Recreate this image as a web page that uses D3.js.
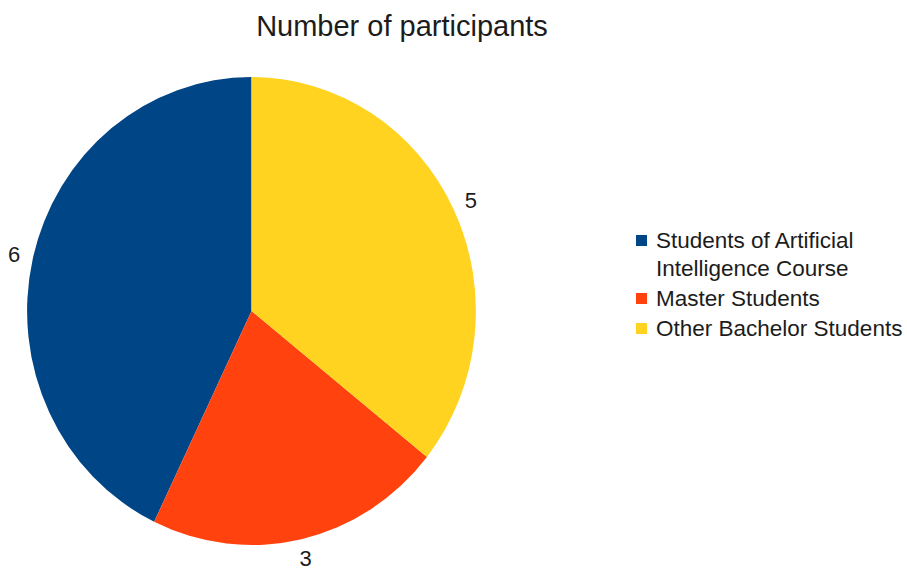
<!DOCTYPE html>
<html>
<head>
<meta charset="utf-8">
<script src="https://cdn.jsdelivr.net/npm/d3@7"></script>
<style>
  html, body { margin: 0; padding: 0; background: #fff; }
  svg { display: block; }
  text { font-family: "Liberation Sans", Arial, sans-serif; fill: #1c1c1c; }
</style>
</head>
<body>
<script>
// Participant groups, in legend order
const categories = ["Students of Artificial Intelligence Course", "Master Students", "Other Bachelor Students"];
const legendLines = [["Students of Artificial", "Intelligence Course"], ["Master Students"], ["Other Bachelor Students"]];
const values = [6, 3, 5];
const colors = ["#004586", "#ff420e", "#ffd320"];
const title = "Number of participants";

const width = 907, height = 577;
const cx = 251.5, cy = 311;
const r = 234;          // vertical radius
const xSquash = 0.959;  // pie is drawn slightly narrower than tall
const labelR = 254;

const svg = d3.select("body").append("svg")
  .attr("width", width).attr("height", height);

svg.append("text")
  .attr("x", 402).attr("y", 36)
  .attr("text-anchor", "middle")
  .style("font-size", "29px")
  .text(title);

const data = categories.map((c, i) => ({ name: c, value: values[i], color: colors[i] }));

// Slices run counter-clockwise from 12 o'clock
const pie = d3.pie().sort(null).value(d => d.value)
  .startAngle(0).endAngle(-2 * Math.PI);
const arcs = pie(data);
const arc = d3.arc().innerRadius(0).outerRadius(r);

const g = svg.append("g")
  .attr("transform", `translate(${cx},${cy}) scale(${xSquash},1)`);

g.selectAll("path").data(arcs).join("path")
  .attr("d", arc)
  .attr("fill", d => d.data.color);

// Value labels just outside the rim
svg.selectAll("text.val").data(arcs).join("text")
  .attr("class", "val")
  .attr("x", d => cx + xSquash * labelR * Math.sin((d.startAngle + d.endAngle) / 2))
  .attr("y", d => cy - labelR * Math.cos((d.startAngle + d.endAngle) / 2))
  .attr("text-anchor", "middle")
  .attr("dominant-baseline", "central")
  .style("font-size", "22px")
  .text(d => d.data.value);

// Legend
const legendX = 636, textX = 656;
const baselines = [248, 306, 336];
const lineH = 28;
const legend = svg.append("g");
data.forEach((d, i) => {
  legend.append("rect")
    .attr("x", legendX).attr("y", baselines[i] - 13)
    .attr("width", 11).attr("height", 11)
    .attr("fill", d.color);
  legendLines[i].forEach((line, j) => {
    legend.append("text")
      .attr("x", textX).attr("y", baselines[i] + j * lineH)
      .style("font-size", "22.5px")
      .text(line);
  });
});
</script>
</body>
</html>
